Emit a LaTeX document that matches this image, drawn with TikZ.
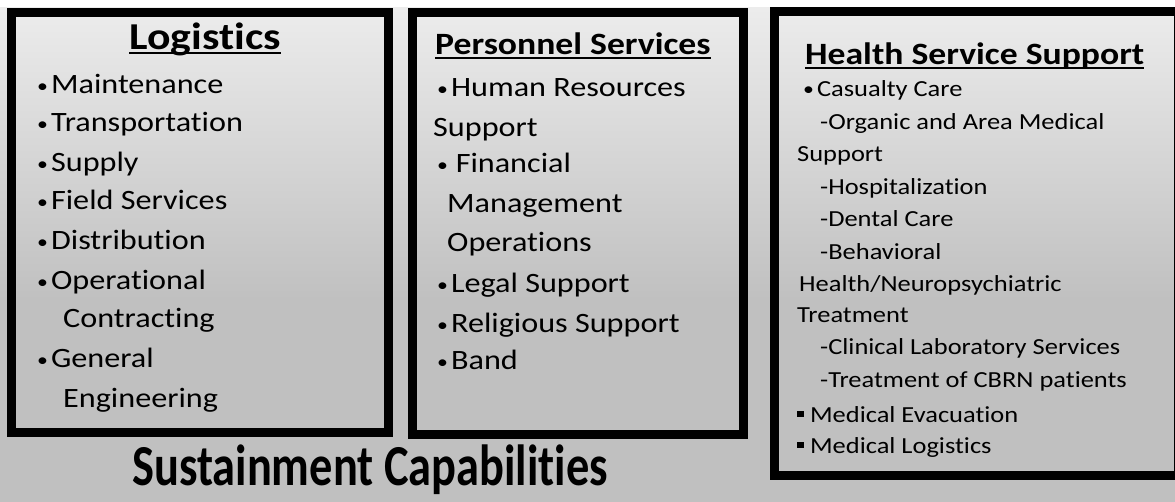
\documentclass[tikz,border=0pt]{standalone}
\usepackage{fontspec}
\setmainfont{Carlito}[FakeStretch=1.15, Ligatures=NoCommon]
\newfontfamily\titlefont{Carlito}[FakeStretch=0.8, Ligatures=NoCommon]
\definecolor{bgtop}{RGB}{236,236,236}
\definecolor{bgbot}{RGB}{192,192,192}
\newcommand{\hdul}[1]{\setbox0\hbox{#1}\rlap{\rule[-4pt]{\wd0}{2pt}}\box0}
\newcommand{\bul}{\raisebox{1.5pt}{\fontsize{19}{19}\selectfont •}\kern3pt}
\newcommand{\sqbul}{\rule[0.2em]{0.3em}{0.3em}}

\tikzset{
  panel/.style={draw=black, line width=9pt, inner sep=0pt},
  head/.style={anchor=base west, inner sep=0pt, font=\bfseries\fontsize{31}{36}\selectfont},
  item/.style={anchor=base west, inner sep=0pt, font=\fontsize{28}{34}\selectfont},
  smallitem/.style={anchor=base west, inner sep=0pt, font=\fontsize{23}{28}\selectfont},
}

\begin{document}
\begin{tikzpicture}[x=1pt, y=-1pt]
    \useasboundingbox (0,0) rectangle (1175,502);

    %% background
    \fill[white] (0,0) rectangle (1175,8);
    \fill[top color=bgtop, bottom color=bgbot] (0,8) rectangle (1175,300);
    \fill[bgbot] (0,300) rectangle (1175,502);

    %%   (lable)  (x, y)
    \node[panel, minimum width=376.5pt, minimum height=419.5pt] (LOG) at (199.75,222.75) {};
    \node[panel, minimum width=331pt,   minimum height=421.5pt] (PER) at (577.5, 223.25) {};
    \node[panel, minimum width=404pt,   minimum height=463pt]   (HSS) at (976,   243.5)  {};

    %% logistics
    \node[head, anchor=base, font=\bfseries\fontsize{38}{40}\selectfont] (LOGh) at (205,50) {\hdul{Logistics}};
    \foreach \x/\y/\txt [count=\i] in {37/94/\bul Maintenance, 37/132/\bul Transportation, 37/172/\bul Supply,
        37/210/\bul Field Services, 37/250/\bul Distribution, 37/290/\bul Operational,
        63/328/Contracting, 37/368/\bul General, 63/407/Engineering}
      \node[item] (LOG\i) at (\x,\y) {\txt};

    %% personnel services
    \node[head] (PERh) at (435,55) {\hdul{Personnel Services}};
    \foreach \x/\y/\txt [count=\i] in {437/97/\bul Human Resources, 433/137/Support, 437/173/\bul\,Financial,
        447/213/Management, 447/252/Operations, 437/293/\bul Legal Support,
        437/333/\bul Religious Support, 437/370/\bul Band}
      \node[item] (PER\i) at (\x,\y) {\txt};

    %% health service support
    \node[head] (HSSh) at (805,65) {\hdul{Health Service Support}};
    \foreach \x/\y/\txt [count=\i] in {803/97/\bul Casualty Care, 820/130/-Organic and Area Medical,
        797/162/Support, 820/195/-Hospitalization, 820/227/-Dental Care,
        820/260/-Behavioral, 799/292/{Health/Neuropsychiatric}, 797/323/Treatment,
        820/355/-Clinical Laboratory Services, 820/388/-Treatment of CBRN patients,
        797/422/\sqbul\ Medical Evacuation, 797/453/\sqbul\ Medical Logistics}
      \node[smallitem] (HSS\i) at (\x,\y) {\txt};

    %% caption
    \node[anchor=base west, inner sep=0pt, font=\titlefont\bfseries\fontsize{58}{60}\selectfont] (CAP) at (132,485) {Sustainment Capabilities};

  \end{tikzpicture}
\end{document}
